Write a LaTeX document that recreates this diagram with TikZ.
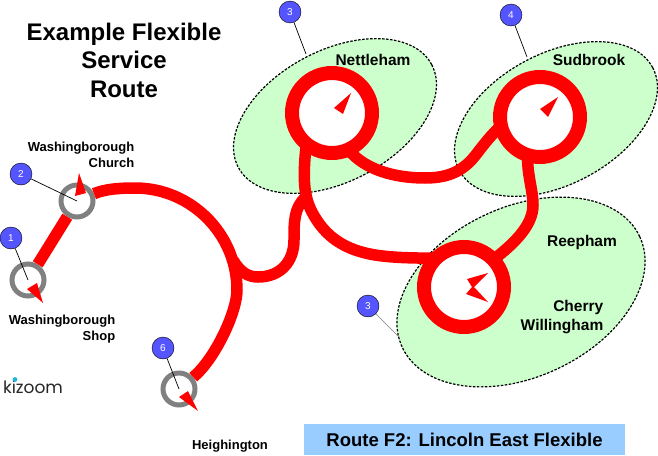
\documentclass[tikz,border=0pt]{standalone}
\usepackage{fontspec}
\setmainfont{Liberation Sans}
\newfontfamily\logofont{Poppins}
\usetikzlibrary{shapes.geometric}
\definecolor{zonegreen}{HTML}{CCFFCC}
\definecolor{badgeblue}{HTML}{5555FF}
\definecolor{ringgrey}{HTML}{808080}
\definecolor{bannerblue}{HTML}{99CCFF}
\definecolor{logocyan}{HTML}{1FB6DC}
\tikzset{
  zone/.style={ellipse,draw=black,fill=zonegreen,dash pattern=on 2.5pt off 1.5pt,line width=1.2pt,inner sep=0},
  route/.style={color=red,line width=11.5pt},
  bigstop/.style={circle,draw=red,fill=white,line width=14pt,minimum size=80pt,inner sep=0,outer sep=0},
  smallstop/.style={circle,draw=ringgrey,fill=white,line width=5pt,minimum size=32pt,inner sep=0},
  pointer/.style={fill=red},
  badge/.style={circle,draw=black,fill=badgeblue,text=white,minimum size=22pt,inner sep=0,font=\fontsize{10}{10}\selectfont},
  leader/.style={color=black,line width=0.7pt},
  place/.style={font=\bfseries\fontsize{15.5}{19.5}\selectfont},
  smallplace/.style={font=\bfseries\fontsize{13}{16}\selectfont}
}

\begin{document}
\begin{tikzpicture}[x=1pt,y=-1pt]
\useasboundingbox (0,0) rectangle (658,455);

% Draw the zones
\node[zone,rotate=28,minimum width=219pt,minimum height=131pt] (zonenettleham) at (335,116) {};
\node[zone,rotate=28,minimum width=219pt,minimum height=131pt] (zonesudbrook) at (556,119) {};
\node[zone,rotate=25,minimum width=262pt,minimum height=170pt] (zonereepham) at (521,292) {};

% Draw the stops
\node[bigstop] (stopnettleham) at (332,113) {};
\node[bigstop] (stopsudbrook) at (540,117) {};
\node[bigstop] (stopreepham) at (464,287) {};
\node[smallstop] (stopshop) at (28,280) {};
\node[smallstop] (stopchurch) at (77,201) {};
\node[smallstop] (stopheighington) at (179,389) {};

% Draw the route
\coordinate (branchleft) at (233,260);
\coordinate (branchright) at (306,197);
\draw[route] (stopshop) -- (stopchurch);
\draw[route] (stopchurch) .. controls (105,189) and (120,188) .. (135,188)
  .. controls (191,188) and (237,234) .. (237,290)
  .. controls (237,312) and (215,359) .. (stopheighington);
\draw[route] (branchleft) .. controls (240,272) and (248,277) .. (258,277)
  .. controls (280,277) and (294,262) .. (294,240)
  .. controls (294,222) and (294,207) .. (branchright);
\draw[route] (stopnettleham.230) .. controls (303,175) and (303,195) .. (312,212)
  .. controls (325,237) and (345,250) .. (375,255)
  .. controls (395,258) and (415,258) .. (stopreepham.134);
\draw[route] (stopnettleham.294) .. controls (365,170) and (395,178) .. (425,178)
  .. controls (450,178) and (465,170) .. (478,152)
  .. controls (485,143) and (492,134) .. (stopsudbrook.193);
\draw[route] (stopsudbrook.252) .. controls (527,175) and (533,190) .. (533,205)
  .. controls (533,225) and (515,243) .. (stopreepham.43);

% Draw the pointers
\fill[pointer] (351,93) -- (334,108) -- (343,114) -- cycle;
\fill[pointer] (558,97) -- (540,109) -- (548,117) -- cycle;
\fill[pointer] (488,273) -- (467,279) -- (472,287) -- (466,294) -- (488,302) -- (474,287) -- cycle;
\fill[pointer] (43,303) -- (27,289) -- (37,283) -- cycle;
\fill[pointer] (79,173) -- (75,196) -- (86,193) -- cycle;
\fill[pointer] (198,411) -- (179,397) -- (188,391) -- cycle;

% Draw the badges
\node[badge] (badgeone) at (11,238) {1};
\node[badge] (badgetwo) at (21,174) {2};
\node[badge] (badgethree) at (290,12) {3};
\node[badge] (badgefour) at (511,15) {4};
\node[badge] (badgefive) at (368,306) {3};
\node[badge] (badgesix) at (163,348) {6};
\coordinate (leadthree) at (306,54);
\coordinate (leadfour) at (527,57);
\coordinate (leadfive) at (399,337);
\draw[leader] (badgeone) -- (stopshop.center);
\draw[leader] (badgetwo) -- (stopchurch.center);
\draw[leader] (badgethree) -- (leadthree);
\draw[leader] (badgefour) -- (leadfour);
\draw[leader,color=gray] (badgefive) -- (leadfive);
\draw[leader] (badgesix) -- (stopheighington.center);

% Draw the labels
\node[align=center,font=\bfseries\fontsize{24}{28.5}\selectfont] (title) at (124,60) {Example Flexible\\Service\\Route};
\node[place] (nettleham) at (373,60) {Nettleham};
\node[place] (sudbrook) at (589,60) {Sudbrook};
\node[place] (reepham) at (582,242) {Reepham};
\node[place,align=right] (cherry) at (562,317) {Cherry\\Willingham};
\node[smallplace,align=right] (church) at (81,155) {Washingborough\\Church};
\node[smallplace,align=right] (shop) at (62,329) {Washingborough\\Shop};
\node[smallplace] (heighington) at (230,446) {Heighington};

% Draw the banner
\node[fill=bannerblue,minimum width=321pt,minimum height=31pt,inner sep=0,font=\bfseries\fontsize{18.5}{18.5}\selectfont] (banner) at (464.5,439.5) {Route F2: Lincoln East Flexible};

% Draw the logo
\node[font=\logofont\fontsize{17}{17}\selectfont,text=black!85,inner sep=0] (logo) at (33,387) {kizoom};
\fill[logocyan] (15,379.5) circle (2.4);

\end{tikzpicture}
\end{document}
